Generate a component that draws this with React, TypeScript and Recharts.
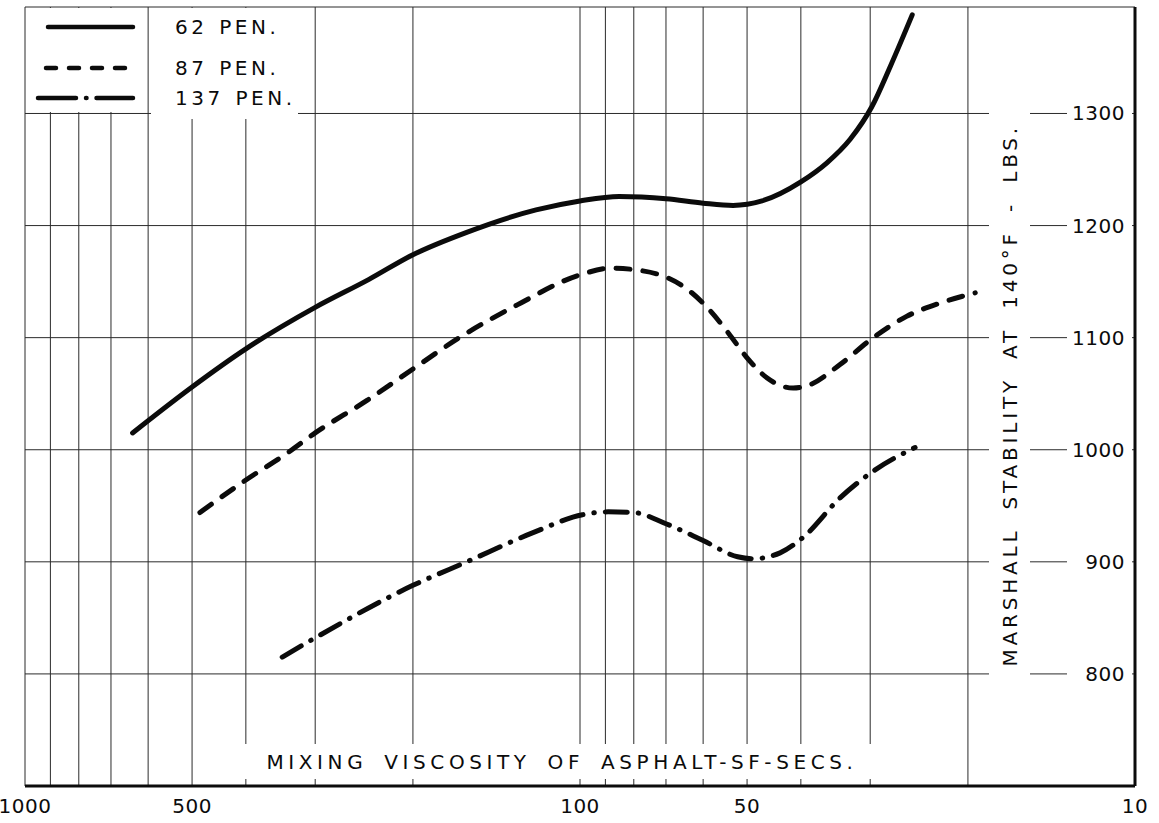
import React from "react";
import {
  LineChart,
  Line,
  XAxis,
  YAxis,
  CartesianGrid,
  ReferenceArea,
  Legend,
} from "recharts";

// viscosity (SF secs) and Marshall stability (lbs)
const pen62Visc = [640, 500, 400, 300, 240, 200, 160, 120, 100, 85, 70, 60, 53, 47, 40, 35.9, 32.6, 29.8, 27.6, 25.2];
const pen62Stab = [1015, 1056, 1090, 1127, 1152, 1174, 1194, 1214, 1222, 1226, 1224, 1220, 1218, 1222, 1239, 1256, 1277, 1306, 1342, 1388];

const pen87Visc = [484, 400, 337, 300, 242, 200, 165, 130, 100, 88, 78, 70, 64, 59, 54, 50, 46, 41.3, 39, 34, 29.8, 25.8, 22.4, 19.4];
const pen87Stab = [944, 973, 997, 1015, 1044, 1072, 1100, 1129, 1156, 1162, 1160, 1154, 1143, 1127, 1104, 1082, 1064, 1055, 1057, 1076, 1099, 1119, 1131, 1140];

const pen137Visc = [344, 298, 200, 160, 121.5, 99, 89, 80, 70, 60, 52, 48.8, 43.6, 39.6, 34, 29.8, 24.9];
const pen137Stab = [815, 833, 879, 900, 926, 942, 944.6, 944, 934, 919, 904.5, 902.7, 908, 922, 957, 980, 1002];

const xTicks = [1000, 900, 800, 700, 600, 500, 400, 300, 200, 100, 90, 80, 70, 60, 50, 40, 30, 20, 10];
const xLabels = [1000, 500, 100, 50, 10];
const yTicks = [800, 900, 1000, 1100, 1200, 1300];

const toRows = (visc: number[], stab: number[]) =>
  visc.map((v, i) => ({ visc: v, stab: stab[i] }));

const INK = "#0b0b0b";
const GRID = "#2b2b2b";
const FONT = "'DejaVu Sans', sans-serif";

const series = [
  { name: "62 PEN.", rows: toRows(pen62Visc, pen62Stab), dash: undefined, key: undefined, sample: [22, 107, 19] },
  { name: "87 PEN.", rows: toRows(pen87Visc, pen87Stab), dash: "14 13", key: "10 13", sample: [20, 112, 60] },
  { name: "137 PEN.", rows: toRows(pen137Visc, pen137Stab), dash: "22 11 0.5 11", key: "38 10 0.5 10", sample: [12, 107, 90] },
];

const LegendBox = () => (
  <svg width={290} height={112} style={{ display: "block", overflow: "visible" }}>
    <rect x={0} y={0} width={120} height={104} fill="#fff" />
    <rect x={125} y={0} width={147} height={111} fill="#fff" />
    {series.map((s) => (
      <g key={s.name}>
        <line
          x1={s.sample[0]}
          x2={s.sample[1]}
          y1={s.sample[2]}
          y2={s.sample[2]}
          stroke={INK}
          strokeWidth={4.5}
          strokeLinecap="round"
          strokeDasharray={s.key}
        />
        <text
          x={149}
          y={s.sample[2]}
          dominantBaseline="central"
          fontFamily={FONT}
          fontSize={20}
          letterSpacing={3.5}
          wordSpacing={2}
          fill={INK}
        >
          {s.name}
        </text>
      </g>
    ))}
  </svg>
);

const YTick = (props: any) => {
  const { x, y, payload } = props;
  return (
    <g>
      <rect x={x - 58} y={y - 13} width={65} height={26} fill="#fff" />
      <text
        x={x}
        y={y}
        textAnchor="end"
        dominantBaseline="central"
        fontFamily={FONT}
        fontSize={20}
        letterSpacing={0.5}
        fill={INK}
      >
        {payload.value}
      </text>
    </g>
  );
};

export default function App() {
  return (
    <div style={{ position: "relative", width: 1159, height: 823, background: "#fff" }}>
      <style>{"body{margin:0}"}</style>
      <LineChart
        width={1159}
        height={823}
        margin={{ top: 7, right: 24, bottom: 7, left: 25 }}
      >
        <CartesianGrid stroke={GRID} strokeWidth={1} />
        <XAxis
          dataKey="visc"
          type="number"
          scale="log"
          domain={[10, 1000]}
          reversed
          ticks={xTicks}
          interval={0}
          tickFormatter={(v: number) => (xLabels.includes(v) ? String(v) : "")}
          tickLine={false}
          tickMargin={7}
          axisLine={{ stroke: INK, strokeWidth: 3 }}
          tick={{ fill: INK, fontFamily: FONT, fontSize: 20, letterSpacing: 0.5 }}
          height={30}
          allowDataOverflow
        />
        <YAxis
          orientation="right"
          mirror
          type="number"
          domain={[700, 1395]}
          ticks={yTicks}
          interval={0}
          tickLine={false}
          tickSize={4}
          tickMargin={6}
          width={60}
          axisLine={{ stroke: INK, strokeWidth: 3 }}
          tick={<YTick />}
          allowDataOverflow
        />
        <ReferenceArea fill="none" stroke={INK} strokeWidth={1.2} ifOverflow="visible" />
        {series.map((s) => (
          <Line
            key={s.name}
            data={s.rows}
            dataKey="stab"
            name={s.name}
            type="monotone"
            stroke={INK}
            strokeWidth={5}
            strokeLinecap="round"
            strokeDasharray={s.dash}
            dot={false}
            activeDot={false}
            isAnimationActive={false}
          />
        ))}
        <Legend
          layout="vertical"
          align="center"
          verticalAlign="middle"
          wrapperStyle={{ position: "absolute", left: 26, top: 8, width: 290, height: 112 }}
          content={() => <LegendBox />}
        />
      </LineChart>

      {/* x-axis title sits on a white band that breaks the grid */}
      <div
        style={{
          position: "absolute",
          left: 222,
          top: 744,
          width: 680,
          height: 35,
          background: "#fff",
          display: "flex",
          alignItems: "center",
          justifyContent: "center",
          fontFamily: FONT,
          fontSize: 20,
          letterSpacing: 4.6,
          wordSpacing: 6,
          color: INK,
          whiteSpace: "nowrap",
        }}
      >
        MIXING VISCOSITY OF ASPHALT-SF-SECS.
      </div>

      {/* rotated y-axis title */}
      <div
        style={{
          position: "absolute",
          left: 989,
          top: 100,
          width: 41,
          height: 590,
          background: "#fff",
          display: "flex",
          alignItems: "center",
          justifyContent: "center",
        }}
      >
        <span
          style={{
            writingMode: "vertical-rl",
            transform: "rotate(180deg)",
            fontFamily: FONT,
            fontSize: 20,
            letterSpacing: 3.8,
            wordSpacing: 8,
            color: INK,
            whiteSpace: "nowrap",
          }}
        >
          MARSHALL STABILITY AT 140°F - LBS.
        </span>
      </div>
    </div>
  );
}
